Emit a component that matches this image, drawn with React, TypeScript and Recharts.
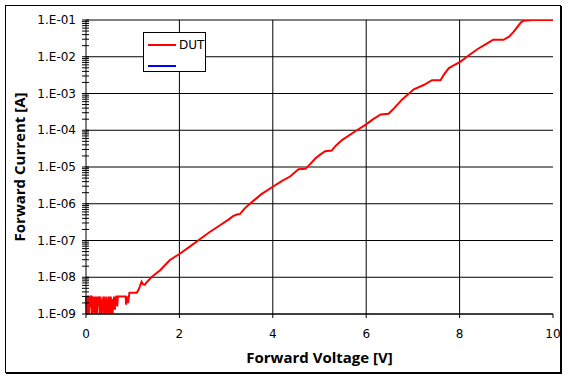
import React from "react";
import { LineChart, Line, XAxis, YAxis, ReferenceLine, Label } from "recharts";

// noise floor at low voltage
const noiseVoltage = [0, 0.01, 0.02, 0.03, 0.04, 0.05, 0.06, 0.07, 0.08, 0.09, 0.1, 0.11, 0.12, 0.13, 0.14, 0.15, 0.16, 0.17, 0.18, 0.19, 0.2, 0.21, 0.22, 0.23, 0.24, 0.25, 0.26, 0.27, 0.28, 0.29, 0.3, 0.31, 0.32, 0.33, 0.34, 0.35, 0.36, 0.37, 0.38, 0.39, 0.4, 0.41, 0.42, 0.43, 0.44, 0.45, 0.46, 0.47, 0.48, 0.49, 0.5, 0.51, 0.52, 0.53, 0.54, 0.55, 0.56, 0.57, 0.58, 0.59, 0.6, 0.61, 0.62, 0.63, 0.64, 0.65, 0.66, 0.67, 0.68];
const noiseCurrent = [
  3e-9, 1e-9, 3e-9, 1e-9, 3e-9, 3e-9, 1e-9, 1e-9, 3e-9, 1.5e-9,
  3e-9, 3e-9, 3e-9, 1e-9, 3e-9, 1.2e-9, 1.2e-9, 3e-9, 1e-9, 2e-9,
  2e-9, 3e-9, 1e-9, 1e-9, 1e-9, 3e-9, 1.6e-9, 3e-9, 2.2e-9, 2.2e-9,
  1e-9, 3e-9, 1e-9, 1e-9, 2.5e-9, 1.3e-9, 1.3e-9, 3e-9, 1e-9, 3e-9,
  1.8e-9, 1.8e-9, 1e-9, 1e-9, 3e-9, 1.1e-9, 2.4e-9, 2.4e-9, 1e-9, 3e-9,
  1.5e-9, 1.5e-9, 1e-9, 3e-9, 2e-9, 1e-9, 1e-9, 1e-9, 2.6e-9, 1.4e-9,
  3e-9, 1.4e-9, 1.4e-9, 3e-9, 2e-9, 3e-9, 3e-9, 1.6e-9, 3e-9,
];

// forward characteristic
const curveVoltage = [0.7, 0.85, 0.86, 0.88, 0.9, 0.92, 0.93, 1.09, 1.12, 1.15, 1.19, 1.22, 1.26, 1.28, 1.4, 1.6, 1.79, 2.0, 2.2, 2.4, 2.65, 2.87, 3.05, 3.15, 3.23, 3.3, 3.4, 3.51, 3.75, 4.0, 4.2, 4.37, 4.55, 4.7, 4.8, 4.91, 5.0, 5.12, 5.26, 5.35, 5.48, 5.8, 6.0, 6.15, 6.31, 6.48, 6.6, 6.77, 7.02, 7.23, 7.41, 7.59, 7.66, 7.77, 8.02, 8.2, 8.38, 8.59, 8.72, 8.94, 9.06, 9.16, 9.31, 9.37, 9.56, 10];
const curveCurrent = [3e-9, 3e-9, 1.8e-9, 3e-9, 2e-9, 3e-9, 3.8e-9, 3.8e-9, 4.5e-9, 5.5e-9, 7.6e-9, 6.5e-9, 6.2e-9, 6.8e-9, 1e-8, 1.6e-8, 2.9e-8, 4.3e-8, 6.5e-8, 1e-7, 1.7e-7, 2.6e-7, 3.7e-7, 4.6e-7, 5.1e-7, 5.3e-7, 7.5e-7, 1e-6, 1.8e-6, 2.9e-6, 4.2e-6, 5.5e-6, 8.7e-6, 8.9e-6, 1.2e-5, 1.7e-5, 2.1e-5, 2.7e-5, 2.8e-5, 3.8e-5, 5.4e-5, 1e-4, 1.45e-4, 2e-4, 2.7e-4, 2.8e-4, 4e-4, 6.9e-4, 1.3e-3, 1.7e-3, 2.3e-3, 2.3e-3, 3.2e-3, 4.9e-3, 7.4e-3, 1.1e-2, 1.6e-2, 2.3e-2, 2.9e-2, 2.9e-2, 3.5e-2, 4.8e-2, 8.5e-2, 9.6e-2, 1e-1, 1e-1];

const xTicks = [0, 2, 4, 6, 8, 10];
const decades = [1e-9, 1e-8, 1e-7, 1e-6, 1e-5, 1e-4, 1e-3, 1e-2, 1e-1];
const seriesNames = ["DUT", ""];
const seriesColors = ["#ff0000", "#0000ff"];

const voltage = [...noiseVoltage, ...curveVoltage];
const current = [...noiseCurrent, ...curveCurrent];
const data = voltage.map((v, i) => ({ v, i: current[i] }));

// minor ticks 1..9 per decade
const yTicks: number[] = [];
for (let k = -9; k < -1; k++) {
  for (let m = 1; m <= 9; m++) yTicks.push(Number((m * Math.pow(10, k)).toPrecision(3)));
}
yTicks.push(1e-1);

const FONT = "'DejaVu Sans', sans-serif";
const TITLE_FONT = "'Open Sans', sans-serif";

const YTick = ({ x, y, payload }: any) => {
  const v = payload.value;
  const exp = Math.round(Math.log10(v));
  const major = Math.abs(v - Math.pow(10, exp)) / v < 1e-6;
  return (
    <g>
      <line x1={x - 4} x2={x + 3} y1={y} y2={y} stroke="#000" />
      {major && (
        <text x={x - 10} y={y} dy={4} textAnchor="end" fontSize={12} fontFamily={FONT} fill="#000">
          {`1.E-${String(-exp).padStart(2, "0")}`}
        </text>
      )}
    </g>
  );
};

export default function App() {
  return (
    <div style={{ position: "absolute", left: 0, top: 0, width: 568, height: 380, background: "#fff" }}>
      <div style={{ position: "absolute", left: 5, top: 5, width: 554, height: 366, border: "1px solid #000", boxShadow: "1px 1px 0 #000" }} />
      <div style={{ position: "absolute", left: 0, top: 0 }}>
        <LineChart width={568} height={380} data={data} margin={{ top: 20, right: 15, bottom: 0, left: 0 }}>
          <XAxis
            dataKey="v"
            type="number"
            domain={[0, 10]}
            ticks={xTicks}
            height={66}
            stroke="#000"
            tickSize={4}
            tickMargin={11}
            tick={{ fill: "#000", fontSize: 12, fontFamily: FONT }}
          >
            <Label value="Forward Voltage [V]" position="insideBottom" offset={17} fill="#000" fontSize={15} fontWeight="bold" fontFamily={TITLE_FONT} />
          </XAxis>
          <YAxis
            type="number"
            scale="log"
            domain={[1e-9, 1e-1]}
            allowDataOverflow
            ticks={yTicks}
            interval={0}
            width={86}
            stroke="#000"
            tickLine={false}
            tickSize={0}
            tickMargin={0}
            tick={<YTick />}
          >
            <Label value="Forward Current [A]" position="insideLeft" angle={-90} offset={20} textAnchor="middle" fill="#000" fontSize={15} fontWeight="bold" fontFamily={TITLE_FONT} />
          </YAxis>
          {decades.map((d) => (
            <ReferenceLine key={`h${d}`} y={d} stroke="#000" strokeWidth={1} ifOverflow="visible" />
          ))}
          {xTicks.slice(1, -1).map((t) => (
            <ReferenceLine key={`v${t}`} x={t} stroke="#000" strokeWidth={1} />
          ))}
          <Line dataKey="i" name={seriesNames[0]} stroke={seriesColors[0]} strokeWidth={2} dot={false} isAnimationActive={false} type="linear" />
        </LineChart>
      </div>
      <div style={{ position: "absolute", left: 143, top: 32, width: 61, height: 38, border: "1px solid #000", background: "#fff", fontFamily: FONT, fontSize: 12 }}>
        {seriesNames.map((n, k) => (
          <div key={k} style={{ position: "absolute", left: 4, top: 4 + k * 21, height: 16, display: "flex", alignItems: "center" }}>
            <div style={{ width: 28, height: 2, background: seriesColors[k] }} />
            <span style={{ marginLeft: 3, color: "#000" }}>{n}</span>
          </div>
        ))}
      </div>
    </div>
  );
}
